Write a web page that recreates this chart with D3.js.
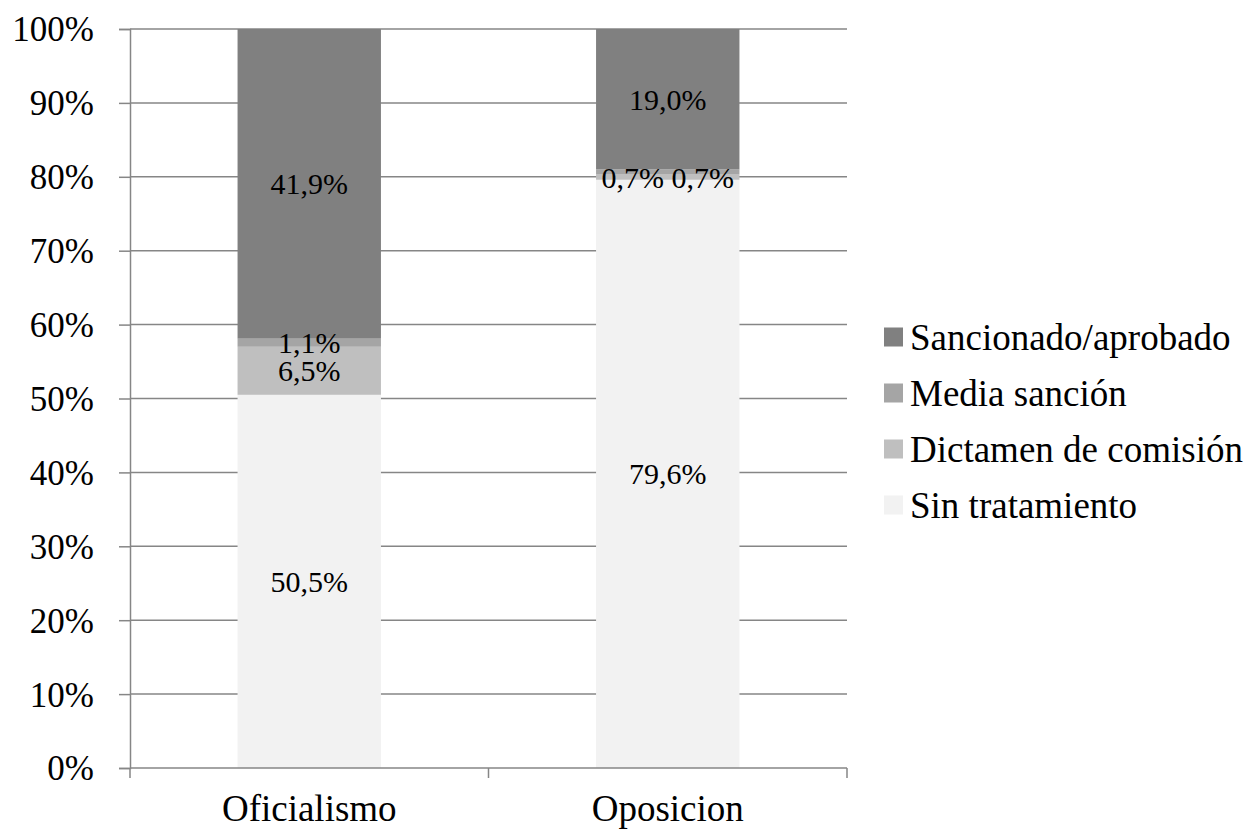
<!DOCTYPE html>
<html>
<head>
<meta charset="utf-8">
<script src="https://cdn.jsdelivr.net/npm/d3@7"></script>
<style>
  body { margin: 0; background: #fff; }
  text { font-family: "Liberation Serif", "Times New Roman", serif; fill: #000; }
</style>
</head>
<body>
<div id="chart"></div>
<script>
var categories = ["Oficialismo", "Oposicion"];
var seriesNames = ["Sin tratamiento", "Dictamen de comisión", "Media sanción", "Sancionado/aprobado"];
var sinTratamiento = [50.5, 79.6];
var dictamen = [6.5, 0.7];
var mediaSancion = [1.1, 0.7];
var sancionado = [41.9, 19.0];
var yTicks = [0, 10, 20, 30, 40, 50, 60, 70, 80, 90, 100];

var colors = ["#f2f2f2", "#bfbfbf", "#a5a5a5", "#808080"];
var seriesValues = [sinTratamiento, dictamen, mediaSancion, sancionado];

var W = 1249, H = 829;
var margin = {top: 29, left: 130},
    plotW = 717, plotH = 739;

var data = categories.map(function(c, i) {
  var row = {cat: c};
  seriesNames.forEach(function(s, k) { row[s] = seriesValues[k][i]; });
  return row;
});
var layers = d3.stack().keys(seriesNames)(data);

var svg = d3.select("#chart").append("svg")
    .attr("width", W).attr("height", H);
var g = svg.append("g")
    .attr("transform", "translate(" + margin.left + "," + margin.top + ")");

var x = d3.scaleBand().domain(categories).range([0, plotW]).padding(0);
var y = d3.scaleLinear().domain([0, 100]).range([plotH, 0]);
var barW = x.bandwidth() * 0.4;
var axisColor = "#868686";

// gridlines
g.selectAll(".grid").data(yTicks.slice(1)).enter().append("line")
    .attr("x1", 0).attr("x2", plotW)
    .attr("y1", function(d) { return y(d); })
    .attr("y2", function(d) { return y(d); })
    .attr("stroke", axisColor).attr("stroke-width", 1.5);

// bars
var layer = g.selectAll(".layer").data(layers).enter().append("g")
    .attr("fill", function(d, i) { return colors[i]; });
layer.selectAll("rect").data(function(d) { return d; }).enter().append("rect")
    .attr("x", function(d) { return x(d.data.cat) + (x.bandwidth() - barW) / 2; })
    .attr("width", barW)
    .attr("y", function(d) { return y(d[1]); })
    .attr("height", function(d) { return y(d[0]) - y(d[1]); });

// y axis
var yAxis = d3.axisLeft(y).tickValues(yTicks).tickSize(11).tickPadding(25)
    .tickFormat(function(d) { return d + "%"; });
var ya = g.append("g").call(yAxis);
ya.select(".domain").attr("stroke", axisColor).attr("stroke-width", 1.5);
ya.selectAll(".tick line").attr("stroke", axisColor).attr("stroke-width", 1.5);
ya.selectAll(".tick text").style("font-size", "35px").attr("dy", "0.34em")
    .style("font-family", "Liberation Serif");

// x axis
g.append("line").attr("x1", 0).attr("x2", plotW).attr("y1", plotH).attr("y2", plotH)
    .attr("stroke", axisColor).attr("stroke-width", 1.5);
var bounds = categories.map(function(c) { return x(c); }).concat([plotW]);
g.selectAll(".xtick").data(bounds).enter().append("line")
    .attr("x1", function(d) { return d; }).attr("x2", function(d) { return d; })
    .attr("y1", plotH).attr("y2", plotH + 10)
    .attr("stroke", axisColor).attr("stroke-width", 1.5);
g.selectAll(".xlab").data(categories).enter().append("text")
    .attr("x", function(d) { return x(d) + x.bandwidth() / 2; })
    .attr("y", plotH + 40)
    .attr("dy", "0.35em")
    .attr("text-anchor", "middle")
    .style("font-size", "37px")
    .text(function(d) { return d; });

// data labels
var fmt = function(v) { return v.toFixed(1).replace(".", ",") + "%"; };
var labels = [];
layers.forEach(function(l, k) {
  l.forEach(function(d, i) {
    labels.push({cat: d.data.cat, i: i, k: k, v: d[1] - d[0],
      cx: x(d.data.cat) + x.bandwidth() / 2, cy: y((d[0] + d[1]) / 2)});
  });
});
// simple overlap handling: very thin neighbouring segments go side by side
categories.forEach(function(c) {
  var ls = labels.filter(function(l) { return l.cat === c; });
  for (var j = 1; j < ls.length; j++) {
    var a = ls[j - 1], b = ls[j];
    if (Math.abs(a.cy - b.cy) < 10) {
      a.cx -= 35; b.cx += 35; b.cy = a.cy;
    }
  }
});
g.selectAll(".dl").data(labels).enter().append("text")
    .attr("x", function(d) { return d.cx; })
    .attr("y", function(d) { return d.cy; })
    .attr("dy", "0.35em")
    .attr("text-anchor", "middle")
    .style("font-size", "30px")
    .text(function(d) { return fmt(d.v); });

// legend
var legend = svg.append("g").attr("transform", "translate(884,337)")
    .selectAll("g").data(seriesNames.slice().reverse()).enter().append("g")
    .attr("transform", function(d, i) { return "translate(0," + i * 56 + ")"; });
legend.append("rect").attr("x", 0).attr("y", -9.5).attr("width", 19).attr("height", 19)
    .attr("fill", function(d) { return colors[seriesNames.indexOf(d)]; });
legend.append("text").attr("x", 26).attr("y", 0).attr("dy", "0.35em")
    .style("font-size", "37px")
    .text(function(d) { return d; });
</script>
</body>
</html>
